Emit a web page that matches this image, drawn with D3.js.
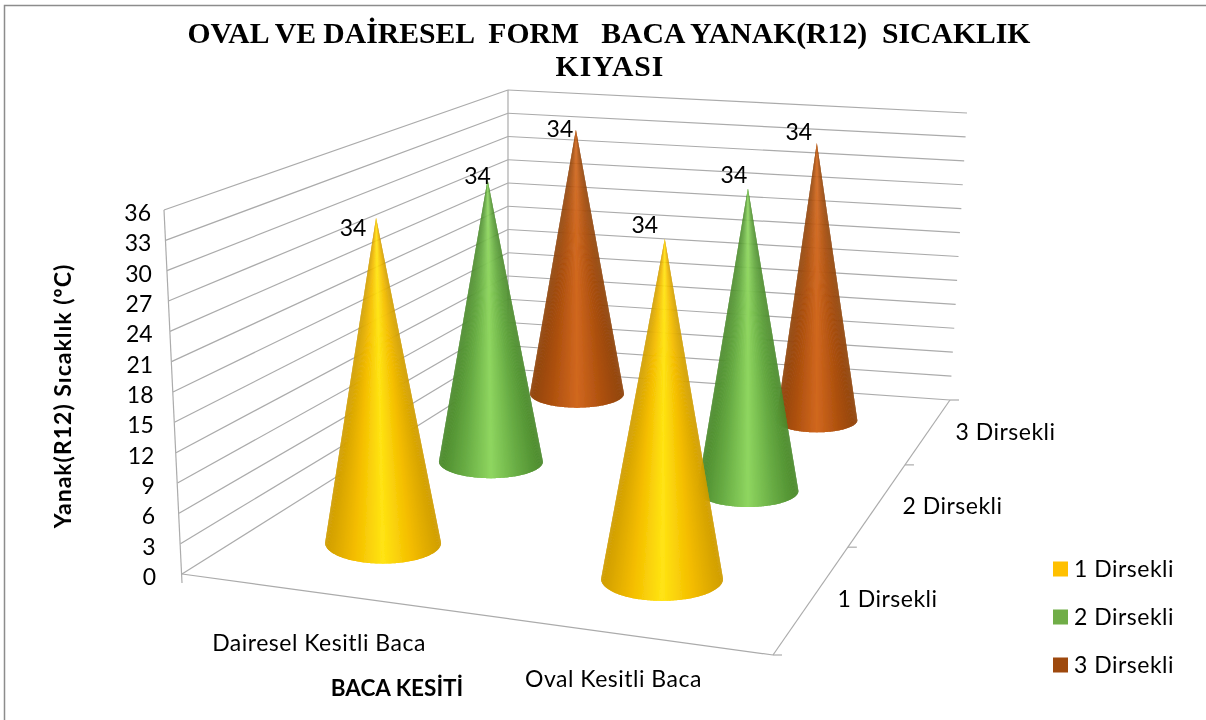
<!DOCTYPE html>
<html><head><meta charset="utf-8">
<script src="https://cdn.jsdelivr.net/npm/d3@7"></script>
<style>html,body{margin:0;padding:0;background:#fff}svg{display:block}</style>
</head><body><div id="c"></div>
<script>
// ---- data ----
const titleLines = ["OVAL VE DAİRESEL  FORM   BACA YANAK(R12)  SICAKLIK", "KIYASI"];
const categories = ["Dairesel Kesitli Baca", "Oval Kesitli Baca"];
const seriesNames = ["1 Dirsekli", "2 Dirsekli", "3 Dirsekli"];
const daireselValues = [34, 34, 34];
const ovalValues = [34, 34, 34];
const valueTicks = d3.range(0, 37, 3);
const yAxisTitle = "Yanak(R12) Sıcaklık (ºC)";
const xAxisTitle = "BACA KESİTİ";
const seriesColors = ["#FFC000", "#70AD47", "#9E480E"];

// ---- layout ----
const W = 1206, H = 720;
const floor = {fl:[182,574], fr:[773,655], br:[950,400], bl:[508,369]};
const wallFrontY = d3.scaleLinear([0,36],[574,210]), wallFrontX = d3.scaleLinear([0,36],[182,164]);
const wallCornerY = d3.scaleLinear([0,36],[369,90]);
const wallRightY = d3.scaleLinear([0,36],[400,113]), wallRightX = d3.scaleLinear([0,36],[950,967]);
const tickLabelRight = d3.scaleLinear([0,36],[156,151]);

// homography: unit floor square to picture
function homography(p00,p10,p11,p01){
  const dx1=p10[0]-p11[0],dy1=p10[1]-p11[1],dx2=p01[0]-p11[0],dy2=p01[1]-p11[1];
  const sx=p00[0]-p10[0]+p11[0]-p01[0],sy=p00[1]-p10[1]+p11[1]-p01[1];
  const det=dx1*dy2-dy1*dx2;
  const g=(sx*dy2-sy*dx2)/det,h=(dx1*sy-dy1*sx)/det;
  const a=p10[0]-p00[0]+g*p10[0],b=p01[0]-p00[0]+h*p01[0],c=p00[0];
  const d=p10[1]-p00[1]+g*p10[1],e=p01[1]-p00[1]+h*p01[1],f=p00[1];
  return (u,v)=>{const w=g*u+h*v+1;return [(a*u+b*v+c)/w,(d*u+e*v+f)/w];};
}
const floorAt = homography(floor.fl,floor.fr,floor.br,floor.bl);

// per-column floor position and apparent size, by depth row
const uByRow = [d3.scaleOrdinal(seriesNames,[.2545,.248,.232]), d3.scaleOrdinal(seriesNames,[.7586,.767,.7756])];
const vByRow = [d3.scaleOrdinal(seriesNames,[.174,.519,.886]), d3.scaleOrdinal(seriesNames,[.1667,.5,.842])];
const radiusByRow = [d3.scaleOrdinal(seriesNames,[58,52,47]), d3.scaleOrdinal(seriesNames,[61,50.5,40.5])];
const flatByRow = d3.scaleOrdinal(seriesNames,[.36,.32,.30]);
const unitByRow = [d3.scaleOrdinal(seriesNames,[9.56,8.29,7.76]), d3.scaleOrdinal(seriesNames,[10,8.9,8.15])];
const labelShift = [[[-23,10],[-10,-4],[-16,-1]],[[-20,-14],[-14,-13],[-18,-11]]];
const tilt = d3.scaleLinear([383,578,662,748],[-.0215,-.004,.008,0]).clamp(true);

const svg = d3.select("#c").append("svg").attr("width",W).attr("height",H).attr("viewBox",[0,0,W,H]);
const defs = svg.append("defs");
defs.append("filter").attr("id","soft").attr("x","-2%").attr("y","-2%").attr("width","104%").attr("height","104%")
  .append("feGaussianBlur").attr("stdDeviation",0.45);
const root = svg.append("g").attr("filter","url(#soft)");
root.append("rect").attr("width",W).attr("height",H).attr("fill","#fff");
root.append("path").attr("d",`M4.5,${H}V5.5H${W}`).attr("fill","none").attr("stroke","#8c8c8c").attr("stroke-width",1.5);

const SANS = "Lato, Carlito, sans-serif";
const labelSize = 23, labelSpacing = 0.5;
// title
root.append("g").selectAll("text").data(titleLines).join("text")
  .attr("x",(d,i)=>i?610:609).attr("y",(d,i)=>43+i*33)
  .attr("text-anchor","middle").attr("xml:space","preserve").style("white-space","pre")
  .attr("font-family","'Liberation Serif',serif").attr("font-weight","bold").attr("font-size",29.7).attr("fill","#000")
  .attr("letter-spacing",(d,i)=>i?1:0)
  .text(d=>d);

// walls
const gridColor = "#ababab";
const walls = root.append("g").attr("fill","none").attr("stroke",gridColor).attr("stroke-width",1.2);
const line = d3.line();
walls.selectAll("path.left").data(valueTicks).join("path").attr("class","left")
  .attr("d",t=>line([[wallFrontX(t),wallFrontY(t)],[508,wallCornerY(t)]]));
walls.selectAll("path.back").data(valueTicks).join("path").attr("class","back")
  .attr("d",t=>line([[508,wallCornerY(t)],[wallRightX(t),wallRightY(t)]]));
walls.append("path").attr("d",line([[wallFrontX(36),wallFrontY(36)],[wallFrontX(0),wallFrontY(0)+9]]));
walls.append("path").attr("d",line([[508,wallCornerY(36)],[508,wallCornerY(0)]]));
// floor edges and depth ticks
walls.append("path").attr("d",line([floor.fl,floor.fr]));
walls.append("path").attr("d",line([floor.fr,floor.br]));
const depthEdge = [0,1,2,3].map(i=>floorAt(1,i/3));
walls.selectAll("path.tick").data(depthEdge).join("path").attr("class","tick")
  .attr("d",p=>line([p,[p[0]+9,p[1]]]));

// cones, back row first
const coneShade = m => 1-Math.abs(m);
const coneColors = [
  d3.scaleLinear([0,.5,1],["#cf9d00","#f4bd00","#ffe414"]),
  d3.scaleLinear([0,.5,1],["#4c8a2d","#69ad45","#8fd660"]),
  d3.scaleLinear([0,.5,1],["#8f440b","#b05210","#d1681f"])
];
const valuesByCategory = [daireselValues, ovalValues];
const cones = [];
[2,1,0].forEach(s=>categories.forEach((c,ci)=>{
  const name=seriesNames[s];
  const base=floorAt(uByRow[ci](name),vByRow[ci](name));
  const r=radiusByRow[ci](name), ry=r*flatByRow(name);
  const h=valuesByCategory[ci][s]*unitByRow[ci](name);
  const apex=[base[0]+tilt(base[0])*h,base[1]-h];
  cones.push({s,ci,base,r,ry,apex,value:valuesByCategory[ci][s]});
}));
const coneG = root.append("g").selectAll("g").data(cones).join("g");
coneG.each(function(d){
  const n=120;
  // paint from both silhouette edges toward the middle so the seams overlap
  const steps=d3.range(n/2).flatMap(i=>[i,n-1-i]);
  const pt=t=>{const a=Math.PI-Math.PI*t/n;return [d.base[0]+d.r*Math.cos(a),d.base[1]+d.ry*Math.sin(a)];};
  d3.select(this).selectAll("path").data(steps).join("path")
    .attr("d",i=>{
      const a=i<n/2?i:i-1, b=i<n/2?i+2:i+1;
      return line([d.apex,pt(a),pt((a+b)/2),pt(b)])+"Z";
    })
    .attr("fill",i=>coneColors[d.s](coneShade(Math.cos(Math.PI-Math.PI*(i+.5)/n))));
});
// data labels
root.append("g").selectAll("text").data(cones).join("text")
  .attr("x",d=>d.apex[0]+labelShift[d.ci][d.s][0]).attr("y",d=>d.apex[1]+labelShift[d.ci][d.s][1]+8)
  .attr("text-anchor","middle").attr("font-family",SANS).attr("font-size",labelSize).attr("fill","#000")
  .text(d=>d.value);

// value axis labels
root.append("g").selectAll("text").data(valueTicks).join("text")
  .attr("x",t=>tickLabelRight(t)).attr("y",t=>wallFrontY(t)+11)
  .attr("text-anchor","end").attr("font-family",SANS).attr("font-size",labelSize).attr("fill","#000")
  .text(t=>t);

// category labels
const catPos = d3.scaleOrdinal(categories,[[319,651],[613.5,687]]);
root.append("g").selectAll("text").data(categories).join("text")
  .attr("x",d=>catPos(d)[0]).attr("y",d=>catPos(d)[1])
  .attr("text-anchor","middle").attr("font-family",SANS).attr("font-size",labelSize).attr("letter-spacing",labelSpacing).attr("fill","#000").text(d=>d);
// depth labels
const depthPos = d3.scaleOrdinal(seriesNames,[[887.5,607],[952.5,514],[1005.5,440]]);
root.append("g").selectAll("text").data(seriesNames).join("text")
  .attr("x",d=>depthPos(d)[0]).attr("y",d=>depthPos(d)[1])
  .attr("text-anchor","middle").attr("font-family",SANS).attr("font-size",labelSize).attr("letter-spacing",labelSpacing).attr("fill","#000").text(d=>d);

// axis titles
root.append("text").attr("transform","translate(71,396) rotate(-90)").attr("text-anchor","middle")
  .attr("font-family",SANS).attr("font-weight","bold").attr("font-size",23).attr("letter-spacing",1).attr("fill","#000").text(yAxisTitle);
root.append("text").attr("x",397).attr("y",696).attr("text-anchor","middle")
  .attr("font-family",SANS).attr("font-weight","bold").attr("font-size",22.5).attr("fill","#000").text(xAxisTitle);

// legend
const legY = d3.scalePoint(seriesNames,[569,665]);
const leg = root.append("g").selectAll("g").data(seriesNames).join("g");
leg.append("rect").attr("x",1053).attr("y",d=>legY(d)-7.5).attr("width",15).attr("height",15).attr("fill",(d,i)=>seriesColors[i]);
leg.append("text").attr("x",1074).attr("y",d=>legY(d)+7.5).attr("font-family",SANS).attr("font-size",labelSize).attr("letter-spacing",labelSpacing).attr("fill","#000").text(d=>d);
</script></body></html>
